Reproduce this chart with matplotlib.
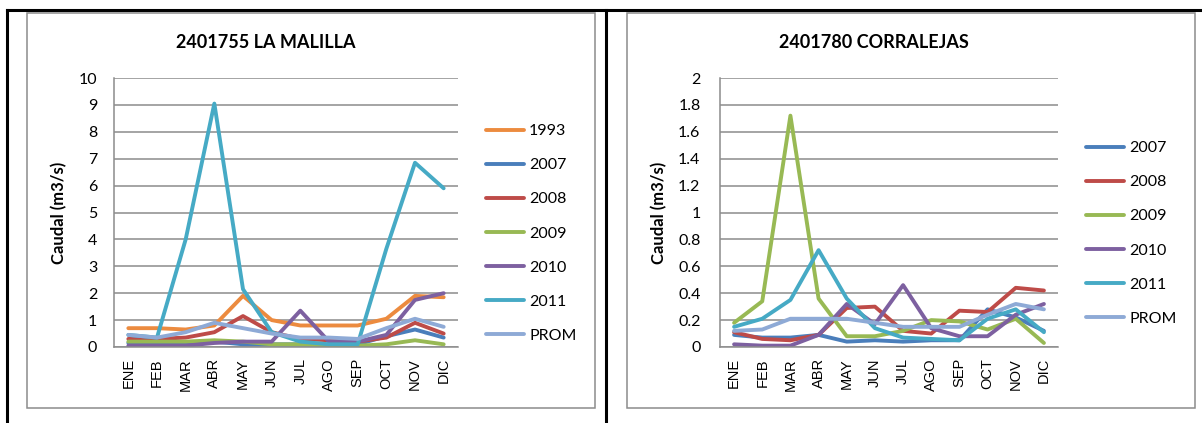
#!/usr/bin/env python3

"""Caudal mensual de dos estaciones."""

import matplotlib
matplotlib.use('Agg')
from matplotlib import pyplot as plt
from matplotlib.lines import Line2D
from matplotlib.patches import Rectangle

MESES = ['ENE', 'FEB', 'MAR', 'ABR', 'MAY', 'JUN',
         'JUL', 'AGO', 'SEP', 'OCT', 'NOV', 'DIC']

# 2401755 LA MALILLA
malilla_1993 = [0.70, 0.70, 0.65, 0.80, 1.90, 1.00, 0.80, 0.80, 0.80, 1.05, 1.90, 1.85]
malilla_2007 = [0.15, 0.15, 0.15, 0.20, 0.10, 0.10, 0.10, 0.10, 0.10, 0.40, 0.65, 0.35]
malilla_2008 = [0.30, 0.30, 0.35, 0.55, 1.15, 0.55, 0.30, 0.25, 0.20, 0.35, 0.90, 0.50]
malilla_2009 = [0.20, 0.20, 0.20, 0.25, 0.20, 0.10, 0.10, 0.05, 0.05, 0.10, 0.25, 0.10]
malilla_2010 = [0.05, 0.05, 0.05, 0.15, 0.20, 0.20, 1.35, 0.20, 0.20, 0.45, 1.75, 2.00]
malilla_2011 = [0.45, 0.35, 4.00, 9.05, 2.15, 0.55, 0.20, 0.10, 0.10, 3.65, 6.85, 5.90]
malilla_prom = [0.45, 0.35, 0.55, 0.90, 0.70, 0.50, 0.35, 0.35, 0.30, 0.70, 1.05, 0.75]

# 2401780 CORRALEJAS
corral_2007 = [0.09, 0.07, 0.07, 0.09, 0.04, 0.05, 0.04, 0.05, 0.05, 0.28, 0.22, 0.12]
corral_2008 = [0.11, 0.06, 0.05, 0.09, 0.29, 0.30, 0.12, 0.10, 0.27, 0.26, 0.44, 0.42]
corral_2009 = [0.18, 0.34, 1.72, 0.36, 0.08, 0.08, 0.12, 0.20, 0.19, 0.13, 0.21, 0.03]
corral_2010 = [0.02, 0.01, 0.01, 0.09, 0.32, 0.17, 0.46, 0.14, 0.08, 0.08, 0.24, 0.32]
corral_2011 = [0.15, 0.21, 0.35, 0.72, 0.36, 0.14, 0.07, 0.06, 0.05, 0.21, 0.28, 0.11]
corral_prom = [0.12, 0.13, 0.21, 0.21, 0.21, 0.18, 0.15, 0.15, 0.15, 0.24, 0.32, 0.28]

COLORES = {
    '1993': '#EC8B3F',
    '2007': '#4A7EBB',
    '2008': '#BE4B48',
    '2009': '#98B954',
    '2010': '#7D60A0',
    '2011': '#46AAC5',
    'PROM': '#8EAAD6',
}

W, H = 1202, 423
NUM_FONT = ['Lato', 'DejaVu Sans']


def fx(px):
    return px / W


def fy(py):
    return 1 - py / H


def draw_chart(fig, box, series, ymax, ystep, title, title_x, leg_xy, ypad):
    """Draw one Excel-like line chart."""
    left, top, right, bottom = box
    axle = fig.add_axes([fx(left), fy(bottom), fx(right - left),
                         (bottom - top) / H])
    x_pos = list(range(len(MESES)))
    for name, values in series:
        axle.plot(x_pos, values, color=COLORES[name], lw=2.8, label=name,
                  solid_joinstyle='round', solid_capstyle='round')
    axle.set_xlim(-0.5, len(MESES) - 0.5)
    axle.set_ylim(0, ymax)
    n_ticks = int(round(ymax / ystep))
    yticks = [i * ystep for i in range(n_ticks + 1)]
    axle.set_yticks(yticks)
    axle.set_yticklabels([f'{v:g}' for v in yticks], fontfamily=NUM_FONT,
                         fontsize=11.5)
    axle.set_xticks(x_pos)
    axle.set_xticklabels(MESES, rotation=90, fontfamily='Liberation Sans',
                         fontsize=10.5)
    axle.tick_params(axis='y', length=0, pad=ypad)
    axle.tick_params(axis='x', length=0, pad=8)
    axle.grid(True, axis='y', color='#8C8C8C', lw=1.1)
    axle.set_axisbelow(True)
    for side in ('top', 'right'):
        axle.spines[side].set_visible(False)
    for side in ('left', 'bottom'):
        axle.spines[side].set_color('#8C8C8C')
        axle.spines[side].set_linewidth(1.1)
    axle.set_ylabel('Caudal (m3/s)', fontfamily=NUM_FONT, fontsize=12,
                    fontweight='bold', labelpad=8)
    fig.text(fx(title_x), fy(42), title, ha='center', va='center',
             fontfamily=NUM_FONT, fontsize=13, fontweight='bold')
    handles, labels = axle.get_legend_handles_labels()
    axle.legend(handles, labels, loc='upper left',
                bbox_to_anchor=(fx(leg_xy[0]), fy(leg_xy[1])),
                bbox_transform=fig.transFigure, frameon=False,
                prop={'family': NUM_FONT, 'size': 11.5},
                handlelength=2.4, handletextpad=0.3, labelspacing=1.25,
                borderpad=0, borderaxespad=0)
    return axle


figure = plt.figure(figsize=(W / 100, H / 100), dpi=100)

# outer table lines
for xs, ys in (([7, W], [10, 10]), ([7, 7], [10, H]), ([606, 606], [10, H])):
    figure.add_artist(Line2D([fx(v) for v in xs], [fy(v) for v in ys],
                             color='black', lw=2.2))
# chart frames
for x0, x1 in ((27, 595), (627, 1195)):
    figure.add_artist(Rectangle((fx(x0), fy(408)), fx(x1 - x0),
                                (408 - 13) / H, fill=False,
                                edgecolor='#8C8C8C', lw=1.1))

draw_chart(
    figure, (114, 78, 458, 347),
    [('1993', malilla_1993), ('2007', malilla_2007), ('2008', malilla_2008),
     ('2009', malilla_2009), ('2010', malilla_2010), ('2011', malilla_2011),
     ('PROM', malilla_prom)],
    10, 1, '2401755 LA MALILLA', 266, (486, 124), 12)

draw_chart(
    figure, (720, 78, 1058, 347),
    [('2007', corral_2007), ('2008', corral_2008), ('2009', corral_2009),
     ('2010', corral_2010), ('2011', corral_2011), ('PROM', corral_prom)],
    2, 0.2, '2401780 CORRALEJAS', 874, (1086, 141), 14)

figure.savefig('out.png', dpi=100)
